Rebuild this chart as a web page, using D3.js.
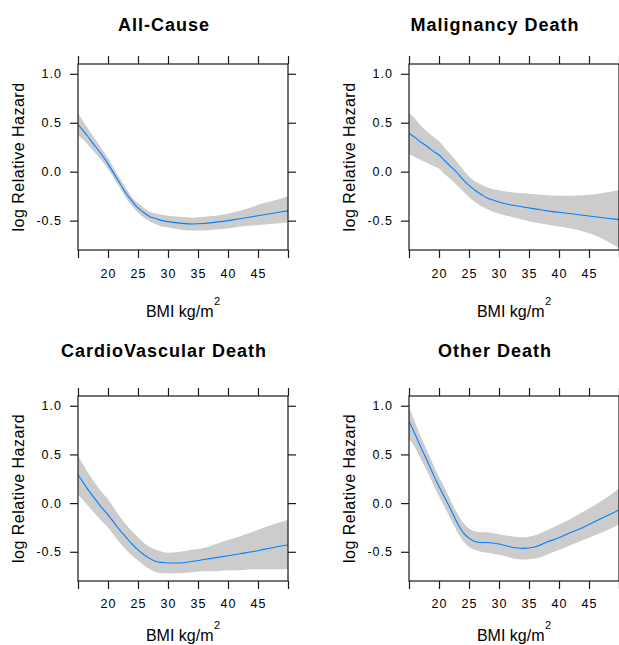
<!DOCTYPE html>
<html>
<head>
<meta charset="utf-8">
<script src="https://cdn.jsdelivr.net/npm/d3@7"></script>
<style>
  html, body { margin: 0; padding: 0; background: #ffffff; }
  svg { display: block; }
  text { font-family: "Liberation Sans", Arial, Helvetica, sans-serif; fill: #000; }
</style>
</head>
<body>
<svg id="chart" width="619" height="645"></svg>
<script>
// ---------------- data ----------------
const bmi = [15,16,17,18,19,20,21,22,23,24,25,26,27,28,29,30,32,34,36,38,40,42,44,46,48,50];

const titles = ["All-Cause", "Malignancy Death", "CardioVascular Death", "Other Death"];

const allCauseEst = [0.48,0.41,0.33,0.25,0.17,0.08,-0.02,-0.12,-0.22,-0.30,-0.37,-0.42,-0.46,-0.48,-0.50,-0.51,-0.525,-0.535,-0.53,-0.515,-0.50,-0.48,-0.46,-0.44,-0.42,-0.40];
const allCauseHi  = [0.60,0.50,0.41,0.32,0.23,0.14,0.03,-0.07,-0.17,-0.26,-0.32,-0.37,-0.41,-0.43,-0.44,-0.45,-0.46,-0.47,-0.46,-0.45,-0.43,-0.40,-0.36,-0.32,-0.29,-0.25];
const allCauseLo  = [0.37,0.32,0.25,0.18,0.11,0.03,-0.07,-0.17,-0.27,-0.35,-0.42,-0.47,-0.51,-0.54,-0.56,-0.57,-0.59,-0.60,-0.60,-0.59,-0.58,-0.56,-0.55,-0.54,-0.53,-0.52];

const malignancyEst = [0.39,0.35,0.30,0.26,0.21,0.17,0.11,0.05,-0.01,-0.08,-0.14,-0.19,-0.23,-0.27,-0.29,-0.31,-0.34,-0.36,-0.38,-0.40,-0.415,-0.43,-0.445,-0.46,-0.475,-0.49];
const malignancyHi  = [0.61,0.54,0.47,0.41,0.36,0.31,0.24,0.17,0.10,0.02,-0.05,-0.10,-0.13,-0.16,-0.18,-0.19,-0.21,-0.22,-0.23,-0.24,-0.245,-0.245,-0.24,-0.23,-0.21,-0.19];
const malignancyLo  = [0.18,0.15,0.12,0.09,0.06,0.03,-0.03,-0.08,-0.14,-0.20,-0.26,-0.31,-0.35,-0.38,-0.41,-0.43,-0.46,-0.49,-0.52,-0.54,-0.56,-0.58,-0.61,-0.65,-0.71,-0.78];

const cardioEst = [0.29,0.20,0.11,0.03,-0.05,-0.12,-0.20,-0.28,-0.35,-0.42,-0.48,-0.53,-0.57,-0.60,-0.61,-0.615,-0.615,-0.60,-0.58,-0.56,-0.54,-0.52,-0.50,-0.475,-0.45,-0.43];
const cardioHi  = [0.49,0.38,0.28,0.19,0.11,0.04,-0.05,-0.14,-0.22,-0.29,-0.35,-0.41,-0.45,-0.48,-0.50,-0.51,-0.50,-0.48,-0.46,-0.42,-0.38,-0.34,-0.30,-0.25,-0.21,-0.17];
const cardioLo  = [0.09,0.02,-0.05,-0.12,-0.19,-0.25,-0.33,-0.41,-0.48,-0.54,-0.59,-0.64,-0.68,-0.71,-0.72,-0.72,-0.72,-0.71,-0.70,-0.70,-0.69,-0.69,-0.68,-0.68,-0.68,-0.68];

const otherEst = [0.84,0.71,0.57,0.44,0.30,0.17,0.05,-0.07,-0.20,-0.30,-0.36,-0.395,-0.405,-0.405,-0.41,-0.42,-0.45,-0.465,-0.45,-0.40,-0.355,-0.30,-0.25,-0.19,-0.13,-0.07];
const otherHi  = [0.99,0.83,0.68,0.54,0.40,0.27,0.15,0.02,-0.10,-0.20,-0.26,-0.29,-0.30,-0.30,-0.31,-0.32,-0.34,-0.35,-0.33,-0.28,-0.22,-0.16,-0.09,-0.02,0.06,0.15];
const otherLo  = [0.66,0.57,0.45,0.33,0.20,0.07,-0.05,-0.17,-0.29,-0.39,-0.45,-0.48,-0.50,-0.51,-0.52,-0.53,-0.56,-0.58,-0.57,-0.53,-0.48,-0.43,-0.38,-0.33,-0.28,-0.22];

const xTicks = [15,20,25,30,35,40,45,50];
const xTickLabels = ["", "20", "25", "30", "35", "40", "45", ""];
const yTicks = [-0.5, 0.0, 0.5, 1.0];
const yTickLabels = ["-0.5", "0.0", "0.5", "1.0"];
const xDomain = [15, 50];
const yDomain = [-0.8, 1.1];
const yLabel = "log Relative Hazard";
const xLabelMain = "BMI kg/m";
const xLabelSup = "2";

// ---------------- layout ----------------
const panels = [
  {title: titles[0], est: allCauseEst,   lo: allCauseLo,   hi: allCauseHi,   left: 78,  top: 64,  h: 186, titleY: 31,  tickY: 277.5, xlabY: 316.5},
  {title: titles[1], est: malignancyEst, lo: malignancyLo, hi: malignancyHi, left: 409, top: 64,  h: 186, titleY: 31,  tickY: 277.5, xlabY: 316.5},
  {title: titles[2], est: cardioEst,     lo: cardioLo,     hi: cardioHi,     left: 78,  top: 396, h: 185, titleY: 357, tickY: 608,   xlabY: 641},
  {title: titles[3], est: otherEst,      lo: otherLo,      hi: otherHi,      left: 409, top: 396, h: 185, titleY: 357, tickY: 608,   xlabY: 641}
];
const W = 210;
const tickLen = 8;

const svg = d3.select("#chart");
const defs = svg.append("defs");

panels.forEach((p, i) => {
  const x = d3.scaleLinear().domain(xDomain).range([p.left, p.left + W]);
  const y = d3.scaleLinear().domain(yDomain).range([p.top + p.h, p.top]);
  const g = svg.append("g");

  defs.append("clipPath").attr("id", "clip" + i)
    .append("rect").attr("x", p.left).attr("y", p.top).attr("width", W).attr("height", p.h);

  const rows = bmi.map((b, k) => ({b, e: p.est[k], lo: p.lo[k], hi: p.hi[k]}));

  const plot = g.append("g").attr("clip-path", `url(#clip${i})`);
  plot.append("path")
    .datum(rows)
    .attr("d", d3.area().x(d => x(d.b)).y0(d => y(d.lo)).y1(d => y(d.hi)).curve(d3.curveMonotoneX))
    .attr("fill", "#cccccc")
    .attr("stroke", "none");
  plot.append("path")
    .datum(rows)
    .attr("d", d3.line().x(d => x(d.b)).y(d => y(d.e)).curve(d3.curveMonotoneX))
    .attr("fill", "none")
    .attr("stroke", "#0080ff")
    .attr("stroke-width", 1.1);

  const axStyle = sel => {
    sel.select(".domain").remove();
    sel.selectAll("line").attr("stroke", "#1a1a1a").attr("stroke-width", 1.2);
  };
  const bottom = g.append("g").attr("transform", `translate(0,${p.top + p.h})`)
    .call(d3.axisBottom(x).tickValues(xTicks).tickSize(tickLen).tickFormat(""));
  axStyle(bottom);

  const top = g.append("g").attr("transform", `translate(0,${p.top})`)
    .call(d3.axisTop(x).tickValues(xTicks).tickSize(tickLen).tickFormat(""));
  axStyle(top);

  const left = g.append("g").attr("transform", `translate(${p.left},0)`)
    .call(d3.axisLeft(y).tickValues(yTicks).tickSize(tickLen).tickFormat(""));
  axStyle(left);

  const right = g.append("g").attr("transform", `translate(${p.left + W},0)`)
    .call(d3.axisRight(y).tickValues(yTicks).tickSize(tickLen).tickFormat(""));
  axStyle(right);

  g.append("rect")
    .attr("x", p.left).attr("y", p.top).attr("width", W).attr("height", p.h)
    .attr("fill", "none").attr("stroke", "#1a1a1a").attr("stroke-width", 1.2);

  g.selectAll(".xtl").data(xTicks).enter().append("text")
    .attr("x", d => x(d) + 0.5)
    .attr("y", p.tickY)
    .attr("text-anchor", "middle")
    .style("font-size", "12.5px")
    .style("letter-spacing", "1px")
    .attr("fill", "#111")
    .text((d, k) => xTickLabels[k]);

  g.selectAll(".ytl").data(yTicks).enter().append("text")
    .attr("x", p.left - 16)
    .attr("y", d => y(d) + 4.5)
    .attr("text-anchor", "end")
    .style("font-size", "12.5px")
    .style("letter-spacing", "1px")
    .attr("fill", "#111")
    .text((d, k) => yTickLabels[k]);

  const cy = p.top + p.h / 2;
  g.append("text")
    .attr("transform", `translate(${p.left - 54},${cy}) rotate(-90)`)
    .attr("text-anchor", "middle")
    .style("font-size", "16px")
    .style("letter-spacing", "0.5px")
    .attr("fill", "#111")
    .text(yLabel);

  const xl = g.append("text")
    .attr("x", p.left + W / 2)
    .attr("y", p.xlabY)
    .attr("text-anchor", "middle")
    .style("font-size", "16px")
    .attr("fill", "#111");
  xl.append("tspan").text(xLabelMain);
  xl.append("tspan").attr("dy", -12).attr("dx", 0.5).style("font-size", "11px").text(xLabelSup);

  g.append("text")
    .attr("x", p.left + W / 2 - 19)
    .attr("y", p.titleY)
    .attr("text-anchor", "middle")
    .style("font-size", "18px")
    .style("font-weight", "bold")
    .style("letter-spacing", "1px")
    .text(p.title);
});
</script>
</body>
</html>
